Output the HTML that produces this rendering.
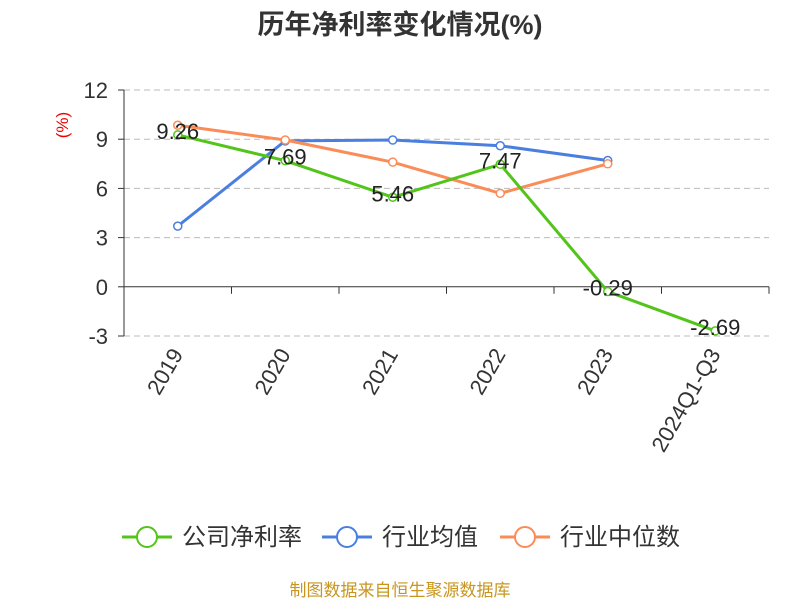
<!DOCTYPE html>
<html><head><meta charset="utf-8"><style>
body{margin:0;background:#fff;}
svg{display:block;font-family:"Liberation Sans","Noto Sans CJK SC",sans-serif;}
</style></head><body>
<svg id="chart" width="800" height="600">
<text x="400" y="34" text-anchor="middle" font-size="27" font-weight="bold" fill="#333">历年净利率变化情况(%)</text>
<text x="68" y="125" text-anchor="middle" font-size="17" fill="#e00" transform="rotate(-90 68 125)">(%)</text>
<g id="grid"></g><g id="axes"></g><g id="series"></g>
<g font-size="24" fill="#333">
<g><line x1="122" y1="537" x2="172" y2="537" stroke="#52c41a" stroke-width="3"/><circle cx="147" cy="537" r="10" fill="#fff" stroke="#52c41a" stroke-width="2"/><text x="182" y="545">公司净利率</text></g>
<g><line x1="322" y1="537" x2="372" y2="537" stroke="#4a7fe0" stroke-width="3"/><circle cx="347" cy="537" r="10" fill="#fff" stroke="#4a7fe0" stroke-width="2"/><text x="382" y="545">行业均值</text></g>
<g><line x1="500" y1="537" x2="550" y2="537" stroke="#fa8c58" stroke-width="3"/><circle cx="525" cy="537" r="10" fill="#fff" stroke="#fa8c58" stroke-width="2"/><text x="560" y="545">行业中位数</text></g>
</g>
<text x="400" y="596" text-anchor="middle" font-size="17" fill="#c8961e">制图数据来自恒生聚源数据库</text>
</svg>
<script>
const categories=["2019","2020","2021","2022","2023","2024Q1-Q3"];
const companyValues=[9.26,7.69,5.46,7.47,-0.29,-2.69];
const industryAvg=[3.7,8.9,8.95,8.6,7.7];
const industryMedian=[9.85,8.95,7.6,5.7,7.5];
const yTicks=[12,9,6,3,0,-3];
const NS="http://www.w3.org/2000/svg";
const L=124,R=769,yMax=12,yMin=-3,yTop=90,yBot=336;
const y=v=>yTop+(yMax-v)*(yBot-yTop)/(yMax-yMin);
const bw=(R-L)/categories.length;
const x=i=>L+bw*(i+0.5);
function mk(t,a,p){const e=document.createElementNS(NS,t);for(const k in a)e.setAttribute(k,a[k]);p.appendChild(e);return e;}
const grid=document.getElementById('grid'),axes=document.getElementById('axes'),ser=document.getElementById('series');
yTicks.forEach(v=>{
 if(v!==0){const g=mk('line',{x1:L,x2:R,y1:y(v),y2:y(v),stroke:'#bbb','stroke-dasharray':'6,4'},grid);
 
 }
 const t=mk('text',{x:L-16,y:y(v)+8,'text-anchor':'end','font-size':22,fill:'#333'},axes);t.textContent=v;
 
 
 mk('line',{x1:L-6,x2:L,y1:y(v),y2:y(v),stroke:'#333'},axes);
});
mk('line',{x1:L,x2:L,y1:yTop,y2:yBot,stroke:'#333'},axes);
const xa=mk('line',{x1:L,x2:R,y1:y(0),y2:y(0),stroke:'#333'},axes);


for(let i=0;i<=categories.length;i++)mk('line',{x1:L+bw*i,x2:L+bw*i,y1:y(0),y2:y(0)+7,stroke:'#333'},axes);
categories.forEach((c,i)=>{
 const t=mk('text',{x:x(i)+6,y:354,'text-anchor':'end','font-size':22,fill:'#333',transform:`rotate(-60 ${x(i)+6} 354)`},axes);t.textContent=c;
 
 
});
function series(vals,color,name,labels){
 const pts=vals.map((v,i)=>x(i)+','+y(v)).join(' ');
 const pl=mk('polyline',{points:pts,fill:'none',stroke:color,'stroke-width':3},ser);
 
 
 vals.forEach((v,i)=>{
  const c=mk('circle',{cx:x(i),cy:y(v),r:4,fill:'#fff',stroke:color,'stroke-width':1.5},ser);
  
  
 });
 if(labels)vals.forEach((v,i)=>{
  const t=mk('text',{x:x(i),y:y(v)+4,'text-anchor':'middle','font-size':22,fill:'#222'},ser);t.textContent=v.toFixed(2);
  
  
 });
}
series(industryAvg,'#4a7fe0','industry-avg',false);
series(industryMedian,'#fa8c58','industry-median',false);
series(companyValues,'#52c41a','company',true);
</script>
</body></html>
